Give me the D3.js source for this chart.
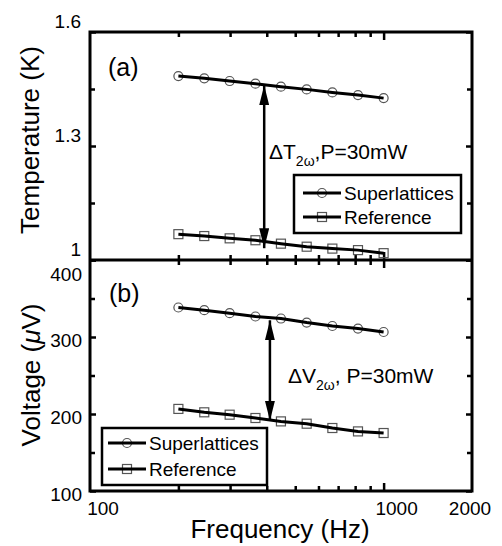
<!DOCTYPE html>
<meta charset="utf-8">
<script src="https://d3js.org/d3.v7.min.js"></script>
<style>
  body { margin: 0; background: #fff; }
  text { font-family: "Liberation Sans", Arial, sans-serif; fill: #000; }
</style>
<div id="chart"></div>
<script>
  // frequencies (Hz) measured for both panels
  var freqs = [200, 245, 299, 366, 447, 547, 669, 818, 1000];

  // panel (a): temperature (K)
  var tempSuper = [1.484, 1.478, 1.471, 1.464, 1.456, 1.449, 1.441, 1.434, 1.426];
  var tempRef   = [1.068, 1.063, 1.057, 1.052, 1.043, 1.035, 1.030, 1.026, 1.018];

  // panel (b): voltage (uV)
  var voltSuper = [338.3, 334.8, 330.9, 326.6, 324.0, 318.7, 314.3, 310.9, 306.5];
  var voltRef   = [206.6, 202.2, 199.1, 194.8, 190.4, 187.4, 181.8, 177.4, 175.3];

  // axis ticks
  var xMinor = [200, 300, 400, 500, 600, 700, 800, 900];
  var xMajor = [1000];
  var xLabels = [100, 1000, 2000];
  var tMajor = [1.0, 1.3, 1.6];
  var tMinor = [1.15, 1.45];
  var tLabels = ["1", "1.3", "1.6"];
  var vMajor = [100, 200, 300, 400];
  var vMinor = [150, 250, 350];

  var W = 502, H = 546;
  var left = 90, right = 472, topA = 32, mid = 260, botB = 491;

  var svg = d3.select("#chart").append("svg")
      .attr("width", W).attr("height", H);

  var defs = svg.append("defs");
  defs.append("marker")
      .attr("id", "head")
      .attr("viewBox", "0 0 20 10")
      .attr("refX", 20).attr("refY", 5)
      .attr("markerWidth", 20).attr("markerHeight", 10)
      .attr("markerUnits", "userSpaceOnUse")
      .attr("orient", "auto-start-reverse")
    .append("path")
      .attr("d", "M0,0 L20,5 L0,10 Z")
      .attr("fill", "#000");

  var x = d3.scaleLog().domain([100, 2000]).range([left, right]);
  var yA = d3.scaleLinear().domain([1.0, 1.6]).range([mid, topA]);
  var yB = d3.scaleLinear().domain([100, 400]).range([botB, mid]);

  function ticks(axis, values, size, transform) {
    var g = svg.append("g")
      .attr("transform", transform)
      .call(axis.tickValues(values).tickSize(size).tickFormat(""));
    g.select(".domain").remove();
    g.selectAll("line").attr("stroke", "#000").attr("stroke-width", 2.5);
    return g;
  }

  // x ticks on top/bottom of both panels (pointing inward)
  ticks(d3.axisTop(x), xMinor, -5, "translate(0," + topA + ")");
  ticks(d3.axisTop(x), xMajor, -8, "translate(0," + topA + ")");
  ticks(d3.axisBottom(x), xMinor, -5, "translate(0," + mid + ")");
  ticks(d3.axisBottom(x), xMajor, -8, "translate(0," + mid + ")");
  ticks(d3.axisTop(x), xMinor, -5, "translate(0," + mid + ")");
  ticks(d3.axisTop(x), xMajor, -8, "translate(0," + mid + ")");
  ticks(d3.axisBottom(x), xMinor, -5, "translate(0," + botB + ")");
  ticks(d3.axisBottom(x), xMajor, -8, "translate(0," + botB + ")");

  // y ticks, left and right
  ticks(d3.axisLeft(yA), tMajor, -6, "translate(" + left + ",0)");
  ticks(d3.axisLeft(yA), tMinor, -5, "translate(" + left + ",0)");
  ticks(d3.axisRight(yA), tMajor, -6, "translate(" + right + ",0)");
  ticks(d3.axisRight(yA), tMinor, -5, "translate(" + right + ",0)");
  ticks(d3.axisLeft(yB), vMajor, -6, "translate(" + left + ",0)");
  ticks(d3.axisLeft(yB), vMinor, -5, "translate(" + left + ",0)");
  ticks(d3.axisRight(yB), vMajor, -6, "translate(" + right + ",0)");
  ticks(d3.axisRight(yB), vMinor, -5, "translate(" + right + ",0)");

  // frame
  svg.append("rect")
      .attr("x", left).attr("y", topA)
      .attr("width", right - left).attr("height", botB - topA)
      .attr("fill", "none").attr("stroke", "#000").attr("stroke-width", 3);
  svg.append("line")
      .attr("x1", left).attr("x2", right).attr("y1", mid).attr("y2", mid)
      .attr("stroke", "#000").attr("stroke-width", 3);

  // tick labels
  svg.selectAll(".tl").data(tMajor).enter().append("text")
      .attr("x", 81).attr("y", function(d) { return yA(d) - 11; })
      .attr("dy", "0.35em").attr("text-anchor", "end")
      .style("font-size", "19px")
      .text(function(d, i) { return tLabels[i]; });
  svg.selectAll(".vl").data(vMajor).enter().append("text")
      .attr("x", 82).attr("y", function(d) { return yB(d) + (d === 400 ? 14 : 3); })
      .attr("dy", "0.35em").attr("text-anchor", "end")
      .style("font-size", "19px")
      .text(function(d) { return d; });
  svg.selectAll(".xl").data(xLabels).enter().append("text")
      .attr("x", function(d) { return x(d) + (d === 2000 ? -2 : 13); })
      .attr("y", 508).attr("dy", "0.35em").attr("text-anchor", "middle")
      .style("font-size", "19px")
      .text(function(d) { return d; });

  // axis titles
  svg.append("text")
      .attr("transform", "translate(39,140) rotate(-90)")
      .attr("text-anchor", "middle")
      .style("font-size", "26px")
      .text("Temperature (K)");
  var vt = svg.append("text")
      .attr("transform", "translate(40,375) rotate(-90)")
      .attr("text-anchor", "middle")
      .style("font-size", "26px");
  vt.append("tspan").text("Voltage (");
  vt.append("tspan").style("font-style", "italic").text("\u03bc");
  vt.append("tspan").text("V)");
  svg.append("text")
      .attr("x", 280).attr("y", 538).attr("text-anchor", "middle")
      .style("font-size", "26px")
      .text("Frequency (Hz)");

  // panel letters
  svg.append("text").attr("x", 108).attr("y", 76)
      .style("font-size", "25px").text("(a)");
  svg.append("text").attr("x", 109).attr("y", 302)
      .style("font-size", "25px").text("(b)");

  // series
  function series(values, yScale, shape) {
    var pts = freqs.map(function(f, i) { return [x(f), yScale(values[i])]; });
    var g = svg.append("g");
    if (shape === "circle") {
      g.selectAll("circle").data(pts).enter().append("circle")
          .attr("cx", function(d) { return d[0]; })
          .attr("cy", function(d) { return d[1]; })
          .attr("r", 4.5)
          .attr("fill", "none").attr("stroke", "#555").attr("stroke-width", 1.2);
    } else {
      g.selectAll("rect").data(pts).enter().append("rect")
          .attr("x", function(d) { return d[0] - 4.5; })
          .attr("y", function(d) { return d[1] - 4.5; })
          .attr("width", 9).attr("height", 9)
          .attr("fill", "none").attr("stroke", "#555").attr("stroke-width", 1.2);
    }
    g.append("path")
        .attr("d", d3.line()(pts))
        .attr("fill", "none").attr("stroke", "#000").attr("stroke-width", 3);
  }
  series(tempSuper, yA, "circle");
  series(tempRef, yA, "square");
  series(voltSuper, yB, "circle");
  series(voltRef, yB, "square");

  // difference arrows
  function arrow(f, v1, v2, yScale) {
    svg.append("line")
        .attr("x1", x(f)).attr("x2", x(f))
        .attr("y1", yScale(v1)).attr("y2", yScale(v2))
        .attr("stroke", "#000").attr("stroke-width", 2.5)
        .attr("marker-start", "url(#head)")
        .attr("marker-end", "url(#head)");
  }
  arrow(392, 1.46, 1.031, yA);
  arrow(410, 321.7, 191.3, yB);

  function label(tx, ty, sym, sep) {
    var t = svg.append("text").attr("x", tx).attr("y", ty).style("font-size", "21px");
    t.append("tspan").text("\u0394" + sym);
    t.append("tspan").attr("dy", 7).style("font-size", "14px").text("2\u03c9");
    t.append("tspan").attr("dy", -7).text("," + sep + "P=30mW");
  }
  label(269, 159, "T", "");
  label(288, 383, "V", " ");

  // legends
  function legend(bx, by, bw, bh, lx, rows) {
    svg.append("rect")
        .attr("x", bx).attr("y", by).attr("width", bw).attr("height", bh)
        .attr("fill", "#fff").attr("stroke", "#000").attr("stroke-width", 2.5);
    rows.forEach(function(r) {
      var cx = lx + 19;
      if (r.shape === "circle") {
        svg.append("circle").attr("cx", cx).attr("cy", r.y).attr("r", 4.5)
            .attr("fill", "none").attr("stroke", "#555").attr("stroke-width", 1.2);
      } else {
        svg.append("rect").attr("x", cx - 4.5).attr("y", r.y - 4.5)
            .attr("width", 9).attr("height", 9)
            .attr("fill", "none").attr("stroke", "#555").attr("stroke-width", 1.2);
      }
      svg.append("line").attr("x1", lx).attr("x2", lx + 38)
          .attr("y1", r.y).attr("y2", r.y)
          .attr("stroke", "#000").attr("stroke-width", 3);
      svg.append("text").attr("x", lx + 41).attr("y", r.y + 7)
          .style("font-size", "19px").text(r.name);
    });
  }
  legend(294, 175, 167, 58, 303, [
    {name: "Superlattices", shape: "circle", y: 193},
    {name: "Reference", shape: "square", y: 217}
  ]);
  legend(102, 428, 165, 57, 108, [
    {name: "Superlattices", shape: "circle", y: 443},
    {name: "Reference", shape: "square", y: 469}
  ]);
</script>
